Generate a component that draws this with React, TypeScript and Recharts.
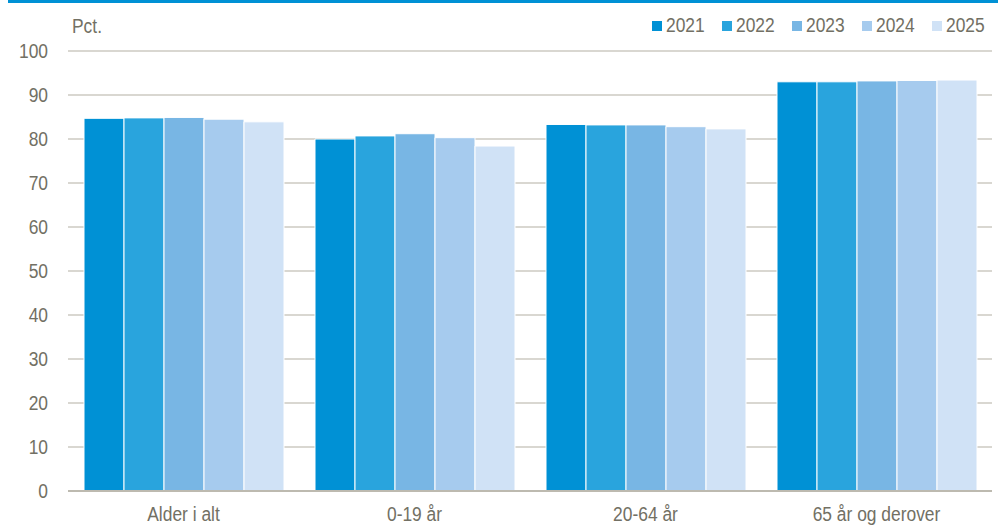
import React from "react";
import { BarChart, Bar, XAxis, YAxis, CartesianGrid } from "recharts";

const categories = ["Alder i alt", "0-19 år", "20-64 år", "65 år og derover"];
const years = ["2021", "2022", "2023", "2024", "2025"];
const v2021 = [84.7, 80.0, 83.3, 93.0];
const v2022 = [84.8, 80.7, 83.2, 93.0];
const v2023 = [84.9, 81.2, 83.2, 93.2];
const v2024 = [84.5, 80.3, 82.8, 93.3];
const v2025 = [83.9, 78.4, 82.3, 93.4];
const yTicks = [0, 10, 20, 30, 40, 50, 60, 70, 80, 90, 100];
const colors = ["#0091d5", "#29a4dd", "#78b6e4", "#a6cbee", "#d0e2f6"];

const series = [v2021, v2022, v2023, v2024, v2025];
const data = categories.map((c, i) => {
  const row: Record<string, number | string> = { name: c };
  years.forEach((y, j) => {
    row[y] = series[j][i];
  });
  return row;
});

const FONT = "'Liberation Sans', Arial, sans-serif";
const TEXT = "#727064";
const SX = 0.87;

const YTick = (props: any) => {
  const { x, y, payload } = props;
  return (
    <g transform={`translate(${x},${y}) scale(${SX},1)`}>
      <text x={0} y={0} dy="0.355em" textAnchor="end" fill={TEXT} fontSize={20} fontFamily={FONT}>
        {payload.value}
      </text>
    </g>
  );
};

const XTick = (props: any) => {
  const { x, y, payload } = props;
  return (
    <g transform={`translate(${x},${y}) scale(${SX},1)`}>
      <text x={0} y={0} dy="0.71em" textAnchor="middle" fill={TEXT} fontSize={20} fontFamily={FONT}>
        {payload.value}
      </text>
    </g>
  );
};

const scaledText: React.CSSProperties = {
  display: "inline-block",
  transform: `scaleX(${SX})`,
  transformOrigin: "left center",
  fontFamily: FONT,
  fontSize: 20,
  color: TEXT,
  lineHeight: "20px",
  whiteSpace: "nowrap",
};

export default function App() {
  return (
    <div style={{ position: "absolute", left: 0, top: 0, width: 998, height: 531, background: "#fff" }}>
      <div style={{ position: "absolute", left: 8, top: 0, width: 990, height: 3, background: "#0091d5" }} />
      <div style={{ position: "absolute", left: 72, top: 16 }}>
        <span style={scaledText}>Pct.</span>
      </div>
      {years.map((y, i) => (
        <div key={y} style={{ position: "absolute", left: 652 + i * 70, top: 15, height: 20 }}>
          <span
            style={{ position: "absolute", left: 0, top: 6, width: 10, height: 10, background: colors[i] }}
          />
          <span style={{ ...scaledText, position: "absolute", left: 14, top: 0 }}>{y}</span>
        </div>
      ))}
      <BarChart
        width={998}
        height={531}
        data={data}
        margin={{ top: 51, right: 6, bottom: 10, left: 0 }}
        barCategoryGap={16}
        barGap={0}
      >
        <CartesianGrid vertical={false} stroke="#cdcac2" strokeWidth={1.5} />
        <XAxis
          dataKey="name"
          height={30}
          tickLine={false}
          tickSize={6}
          tickMargin={10}
          axisLine={{ stroke: "#bdbab0", strokeWidth: 2 }}
          tick={<XTick />}
          interval={0}
        />
        <YAxis
          width={68}
          domain={[0, 100]}
          ticks={yTicks}
          tickLine={false}
          axisLine={false}
          tickSize={6}
          tickMargin={14}
          tick={<YTick />}
          interval={0}
        />
        {years.map((y, i) => (
          <Bar key={y} dataKey={y} fill={colors[i]} stroke="#ffffff" strokeWidth={1} isAnimationActive={false} />
        ))}
      </BarChart>
    </div>
  );
}
